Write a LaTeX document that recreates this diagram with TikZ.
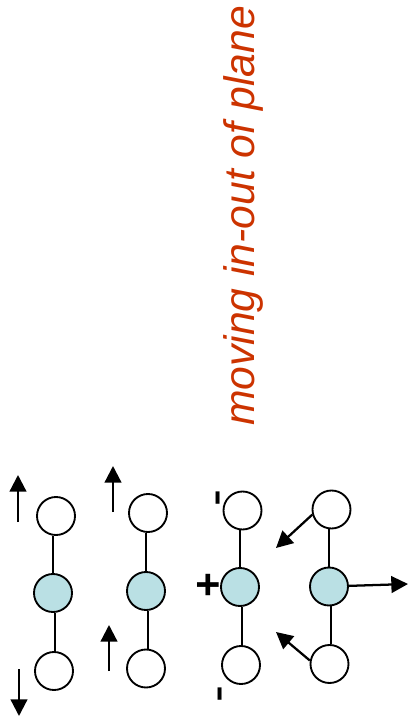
\documentclass[tikz,border=0pt]{standalone}
\usepackage{fontspec}
\setmainfont{Liberation Sans}
\usetikzlibrary{arrows.meta}
\definecolor{atomfill}{RGB}{186,224,228}
\definecolor{titlered}{RGB}{204,51,0}
\tikzset{
    %Define standard arrow tip
    >={Triangle[length=12.5pt,width=12.5pt]},
    %Define style for outer circles
    outer/.style={
           circle,
           draw=black, line width=1.4pt,
           fill=white,
           inner sep=0pt,
           minimum size=28.5pt},
    %Define style for central circles
    inner/.style={
           outer,
           fill=atomfill},
    % Define bond style
    bond/.style={
           line width=1.2pt},
    % Define arrow style
    pil/.style={
           ->,
           line width=1.7pt},
    % Define style for charges
    charge/.style={
           rotate=90,
           inner sep=0pt,
           font=\fontsize{38}{38}\selectfont},
    plus/.style={
           charge,
           font=\bfseries\fontsize{32}{32}\selectfont}
}
\begin{document}
\begin{tikzpicture}[x=0.75pt,y=-0.75pt]

\useasboundingbox (0,0) rectangle (408,727);

\node[rotate=90,inner sep=0pt,text=titlered,font=\itshape\fontsize{32}{32}\selectfont] (Title) at (243.5,216) {moving in-out of plane};

%first column
\node[outer] (A1) at (56,516) {};
\node[inner] (A2) at (53,593) {};
\node[outer] (A3) at (54,671) {};
%second column
\node[outer] (B1) at (148,513) {};
\node[inner] (B2) at (146,591) {};
\node[outer] (B3) at (146,668.5) {};
%third column
\node[outer] (C1) at (242.5,510.5) {};
\node[inner] (C2) at (240,587) {};
\node[outer] (C3) at (241,665) {};
%fourth column
\node[outer] (D1) at (331.5,509.5) {};
\node[inner] (D2) at (329,586.5) {};
\node[outer] (D3) at (329.5,664) {};

\node[charge] (Cm) at (223.5,498) {-};
\node[plus] (Cp) at (209.5,585) {+};
\node[charge] (Cn) at (225.5,694.5) {-};

\coordinate (a1s) at (18,522);
\coordinate (a1e) at (18,475);
\coordinate (a3s) at (19,669);
\coordinate (a3e) at (19,716);
\coordinate (b1s) at (113,512);
\coordinate (b1e) at (113,466);
\coordinate (b3s) at (109,671);
\coordinate (b3e) at (109,625);
\coordinate (d1e) at (276,548);
\coordinate (d2e) at (408,584);
\coordinate (d3e) at (276,632);

\draw[bond] (A2.north) -- (A2.north |- A1.south);
\draw[bond] ([xshift=1.6pt]A2.south) -- ([xshift=1.6pt]A2.south |- A3.north);
\draw[bond] (B2.north) -- (B2.north |- B1.south);
\draw[bond] ([xshift=1.5pt]B2.south) -- ([xshift=1.5pt]B2.south |- B3.north);
\draw[bond] (C2.north) -- (C2.north |- C1.south);
\draw[bond] ([xshift=1.5pt]C2.south) -- ([xshift=1.5pt]C2.south |- C3.north);
\draw[bond] (D2.north) -- (D2.north |- D1.south);
\draw[bond] ([xshift=1.6pt]D2.south) -- ([xshift=1.6pt]D2.south |- D3.north);

\draw[pil] (a1s) -- (a1e);
\draw[pil] (a3s) -- (a3e);
\draw[pil] (b1s) -- (b1e);
\draw[pil] (b3s) -- (b3e);
\draw[pil] (D1.195) -- (d1e);
\draw[pil] (D2) -- (d2e);
\draw[pil] (D3.170) -- (d3e);

\end{tikzpicture}
\end{document}
